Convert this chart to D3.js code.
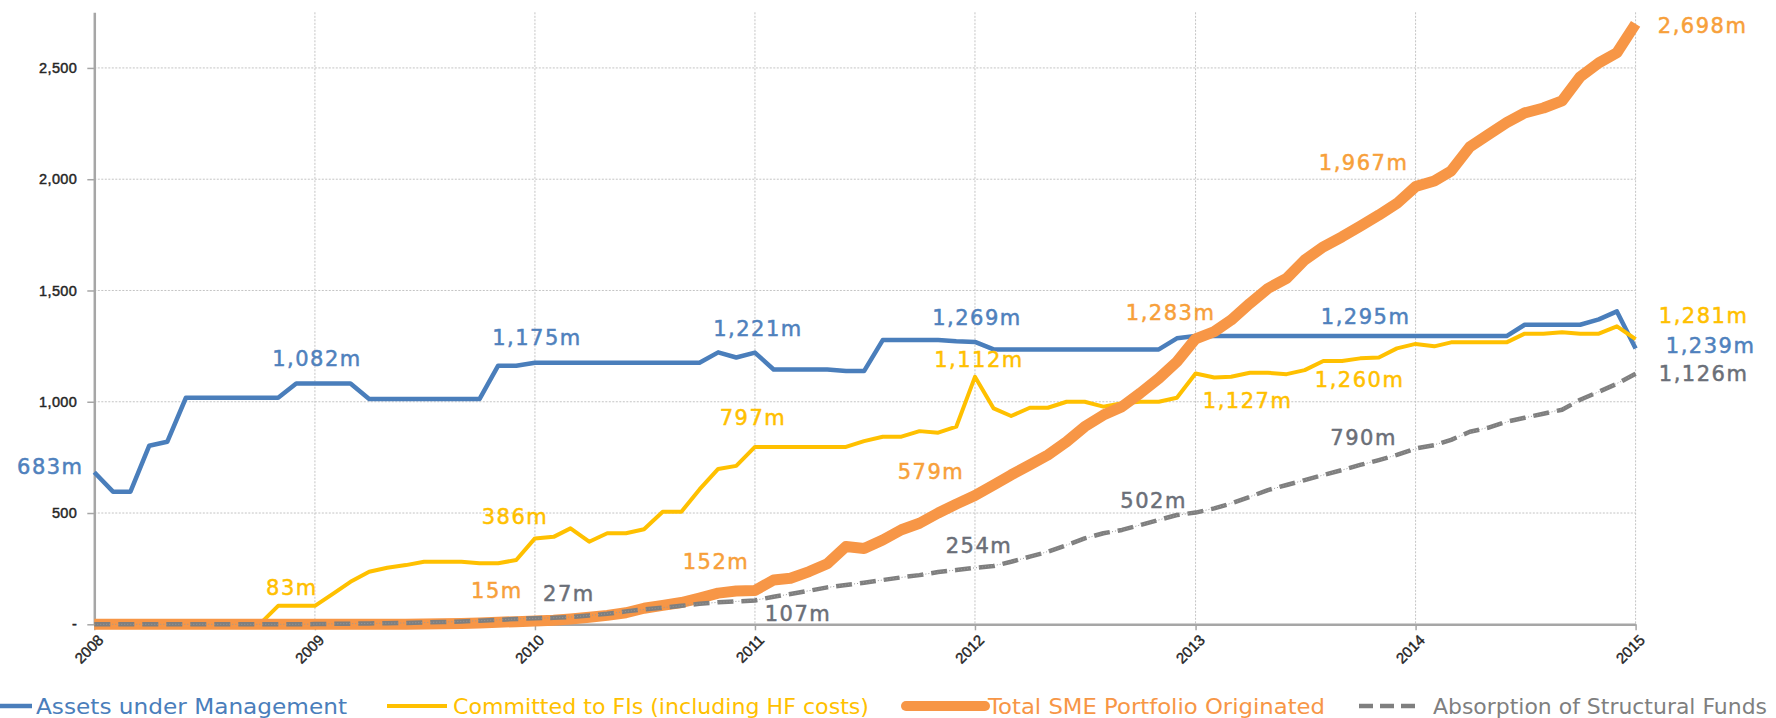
<!DOCTYPE html>
<html>
<head>
<meta charset="utf-8">
<script src="https://cdnjs.cloudflare.com/ajax/libs/d3/7.8.5/d3.min.js"></script>
<style>
  body { margin: 0; background: #fff; }
  svg { display: block; font-family: "DejaVu Sans", sans-serif; }
</style>
</head>
<body>
<script>
// Monthly figures in EUR m, January 2008 to January 2015 (85 points)
const startDate = new Date(2008, 0, 1);
const yearLabels = ['2008', '2009', '2010', '2011', '2012', '2013', '2014', '2015'];
const yTicks = [0, 500, 1000, 1500, 2000, 2500];

const seriesNames = [
  'Assets under Management',
  'Committed to FIs (including HF costs)',
  'Total SME Portfolio Originated',
  'Absorption of Structural Funds'
];

const assets = [
  683, 596, 596, 802, 820, 1018, 1018, 1018, 1018, 1018, 1018, 1082,
  1082, 1082, 1082, 1012, 1012, 1012, 1012, 1012, 1012, 1012, 1162, 1162,
  1175, 1175, 1175, 1175, 1175, 1175, 1175, 1175, 1175, 1175, 1222, 1199,
  1221, 1145, 1145, 1145, 1145, 1138, 1138, 1277, 1277, 1277, 1277, 1272,
  1269, 1235, 1235, 1235, 1235, 1235, 1235, 1235, 1235, 1235, 1235, 1285,
  1295, 1295, 1295, 1295, 1295, 1295, 1295, 1295, 1295, 1295, 1295, 1295,
  1295, 1295, 1295, 1295, 1295, 1295, 1346, 1346, 1346, 1346, 1370, 1406,
  1239
];

const committed = [
  0, 0, 0, 0, 0, 0, 0, 0, 0, 0, 83, 83,
  83, 139, 191, 236, 254, 266, 281, 281, 281, 274, 274, 289,
  386, 393, 431, 371, 409, 409, 427, 506, 506, 606, 698, 712,
  797, 797, 797, 797, 797, 797, 823, 843, 843, 868, 861, 888,
  1112, 970, 936, 973, 973, 1000, 1000, 978, 993, 1000, 1000, 1018,
  1127, 1109, 1112, 1130, 1130, 1124, 1142, 1183, 1183, 1195, 1199, 1240,
  1260, 1249, 1267, 1267, 1267, 1267, 1306, 1306, 1312, 1306, 1306, 1339,
  1281
];

const smePortfolio = [
  0, 0, 0, 0, 0, 0, 0, 0, 0, 0, 0, 0,
  0, 0, 0, 0, 0, 0, 1, 2, 4, 6, 9, 12,
  15, 18, 24, 32, 40, 52, 72, 85, 98, 118, 140, 150,
  152, 199, 207, 237, 272, 350, 341, 379, 425, 454, 500, 540,
  579, 626, 671, 716, 761, 820, 888, 940, 978, 1038, 1105, 1180,
  1283, 1315, 1367, 1442, 1509, 1554, 1637, 1696, 1741, 1789, 1839, 1891,
  1967, 1992, 2037, 2145, 2199, 2254, 2298, 2320, 2352, 2460, 2523, 2568,
  2698
];

const absorption = [
  0, 0, 0, 0, 0, 0, 0, 0, 0, 0, 0, 0,
  1, 2, 3, 4, 5, 6, 8, 10, 13, 16, 20, 24,
  27, 29, 32, 40, 47, 58, 67, 75, 83, 92, 99, 103,
  107, 124, 136, 151, 166, 177, 187, 199, 211, 221, 235, 244,
  254, 262, 281, 304, 326, 356, 386, 409, 424, 446, 469, 491,
  502, 521, 543, 573, 603, 626, 648, 671, 693, 716, 738, 761,
  790, 805, 829, 865, 883, 910, 928, 946, 964, 1009, 1045, 1081,
  1126
];

// months (index) that carry a data label
const assetsLabelAt = [0, 12, 24, 36, 48, 72, 84];
const committedLabelAt = [12, 24, 36, 48, 60, 72, 84];
const smeLabelAt = [24, 36, 48, 60, 72, 84];
const absorptionLabelAt = [24, 36, 48, 60, 72, 84];

// ---- drawing ----
const width = 1776, height = 718;
const plot = { left: 94.3, right: 1635.6, top: 12.3, bottom: 624.3 };

const series = [
  { name: seriesNames[0], values: assets, labelAt: assetsLabelAt,
    color: '#4a7ebb', labelColor: '#4f81bd', width: 4.5 },
  { name: seriesNames[1], values: committed, labelAt: committedLabelAt,
    color: '#ffc000', labelColor: '#ffc000', width: 4 },
  { name: seriesNames[2], values: smePortfolio, labelAt: smeLabelAt,
    color: '#f79646', labelColor: '#f7a03a', width: 11 },
  { name: seriesNames[3], values: absorption, labelAt: absorptionLabelAt,
    color: '#7f7f7f', labelColor: '#6b6f78', width: 4.5, dash: '16,8' }
];

// label offsets from the point (centre of text), one table per series
const labelOffsets = [
  { 0: [-44, -6], 12: [2, -25], 24: [2, -25], 36: [3, -24], 48: [2, -24], 72: [-50, -20], 84: [75, -3] },
  { 12: [-23, -18], 24: [-20, -22], 36: [-2, -29], 48: [4, -17], 60: [52, 27], 72: [-56, 36], 84: [68, -24] },
  { 24: [-38, -31], 36: [-39, -29], 48: [-44, -24], 60: [-25, -26], 72: [-52, -24], 84: [67, 2] },
  { 24: [34, -25], 36: [43, 13], 48: [4, -22], 60: [-42, -12], 72: [-52, -11], 84: [68, 0] }
];

// legend geometry: swatch length, gap to text, text length, gap to next item
const legendSwatch = [32, 60, 79, 62];
const legendGap = [4, 6, 3, 12];
const legendText = [311, 416, 337, 334];
const legendAfter = [40, 37, 34, 0];

const dateAt = i => d3.timeMonth.offset(startDate, i);

const x = d3.scaleTime()
  .domain([startDate, dateAt(84)])
  .range([plot.left, plot.right]);

const y = d3.scaleLinear()
  .domain([0, 2750])
  .range([plot.bottom, plot.top]);

const svg = d3.select('body').append('svg')
  .attr('width', width)
  .attr('height', height);

svg.append('rect').attr('width', width).attr('height', height).attr('fill', '#fff');

const yearDates = yearLabels.map(d => new Date(+d, 0, 1));

// dotted gridlines
svg.append('g')
  .selectAll('line')
  .data(yTicks.slice(1))
  .join('line')
  .attr('x1', plot.left).attr('x2', plot.right)
  .attr('y1', d => y(d)).attr('y2', d => y(d))
  .attr('stroke', '#c4c4c4')
  .attr('stroke-width', 1)
  .attr('stroke-dasharray', '2,1.5');

svg.append('g')
  .selectAll('line')
  .data(yearDates.slice(1))
  .join('line')
  .attr('x1', d => x(d)).attr('x2', d => x(d))
  .attr('y1', plot.top).attr('y2', plot.bottom)
  .attr('stroke', '#c4c4c4')
  .attr('stroke-width', 1)
  .attr('stroke-dasharray', '2,1.5');

// y axis
const yAxis = svg.append('g')
  .attr('transform', `translate(${plot.left},0)`)
  .call(d3.axisLeft(y)
    .tickValues(yTicks)
    .tickSize(7)
    .tickSizeOuter(0)
    .tickPadding(10)
    .tickFormat(d => d === 0 ? '-' : d3.format(',')(d)));

yAxis.select('.domain').attr('stroke', '#a6a6a6').attr('stroke-width', 2.5);
yAxis.selectAll('.tick line').attr('stroke', '#a6a6a6').attr('stroke-width', 1.5);
yAxis.selectAll('.tick text')
  .attr('font-size', 14.5)
  .attr('letter-spacing', 0.4)
  .attr('fill', '#262626')
  .attr('stroke', '#262626')
  .attr('stroke-width', 0.45);

// x axis
const xAxis = svg.append('g')
  .attr('transform', `translate(0,${plot.bottom})`)
  .call(d3.axisBottom(x)
    .tickValues(yearDates)
    .tickSize(6)
    .tickSizeOuter(0)
    .tickFormat(d3.timeFormat('%Y')));

xAxis.select('.domain').attr('stroke', '#a6a6a6').attr('stroke-width', 2.5);
xAxis.selectAll('.tick line').attr('stroke', '#a6a6a6').attr('stroke-width', 1.5);
xAxis.selectAll('.tick text')
  .attr('font-size', 15)
  .attr('fill', '#262626')
  .attr('stroke', '#262626')
  .attr('stroke-width', 0.4)
  .attr('text-anchor', 'end')
  .attr('x', 0).attr('y', 0).attr('dy', '0.35em')
  .attr('transform', 'translate(6,13) rotate(-45)');

// lines
const line = d3.line()
  .x((d, i) => x(dateAt(i)))
  .y(d => y(d));

series.forEach(s => {
  svg.append('path')
    .datum(s.values)
    .attr('d', line)
    .attr('fill', 'none')
    .attr('stroke', s.color)
    .attr('stroke-width', s.width)
    .attr('stroke-linejoin', 'round')
    .attr('stroke-dasharray', s.dash || null);
});

// faint trend line behind the structural funds series
svg.append('path')
  .datum(absorption)
  .attr('d', line.curve(d3.curveBasis))
  .attr('fill', 'none')
  .attr('stroke', '#9a9a9a')
  .attr('stroke-width', 1)
  .attr('stroke-dasharray', '1,2');

// data labels
const fmt = d3.format(',');
series.forEach((s, k) => {
  svg.append('g')
    .selectAll('text')
    .data(s.labelAt)
    .join('text')
    .attr('x', i => x(dateAt(i)) + labelOffsets[k][i][0])
    .attr('y', i => y(s.values[i]) + labelOffsets[k][i][1])
    .attr('dy', '0.36em')
    .attr('text-anchor', 'middle')
    .attr('font-size', 21)
    .attr('letter-spacing', 1.5)
    .attr('fill', s.labelColor)
    .attr('stroke', s.labelColor)
    .attr('stroke-width', 0.5)
    .text(i => fmt(s.values[i]) + 'm');
});

// legend along the bottom
const legend = svg.append('g').attr('transform', 'translate(0,706)');
let lx = 0;
series.forEach((s, k) => {
  legend.append('line')
    .attr('x1', lx).attr('x2', lx + legendSwatch[k])
    .attr('y1', 0).attr('y2', 0)
    .attr('stroke', s.color)
    .attr('stroke-width', k === 2 ? 10 : s.width)
    .attr('stroke-linecap', k === 2 ? 'round' : 'butt')
    .attr('stroke-dasharray', s.dash ? '14,7' : null);
  lx += legendSwatch[k] + legendGap[k];
  legend.append('text')
    .attr('x', lx)
    .attr('y', 0)
    .attr('dy', '0.36em')
    .attr('font-size', 21.5)
    .attr('textLength', legendText[k])
    .attr('lengthAdjust', 'spacingAndGlyphs')
    .attr('fill', s.color)
    .text(s.name);
  lx += legendText[k] + legendAfter[k];
});
</script>
</body>
</html>
